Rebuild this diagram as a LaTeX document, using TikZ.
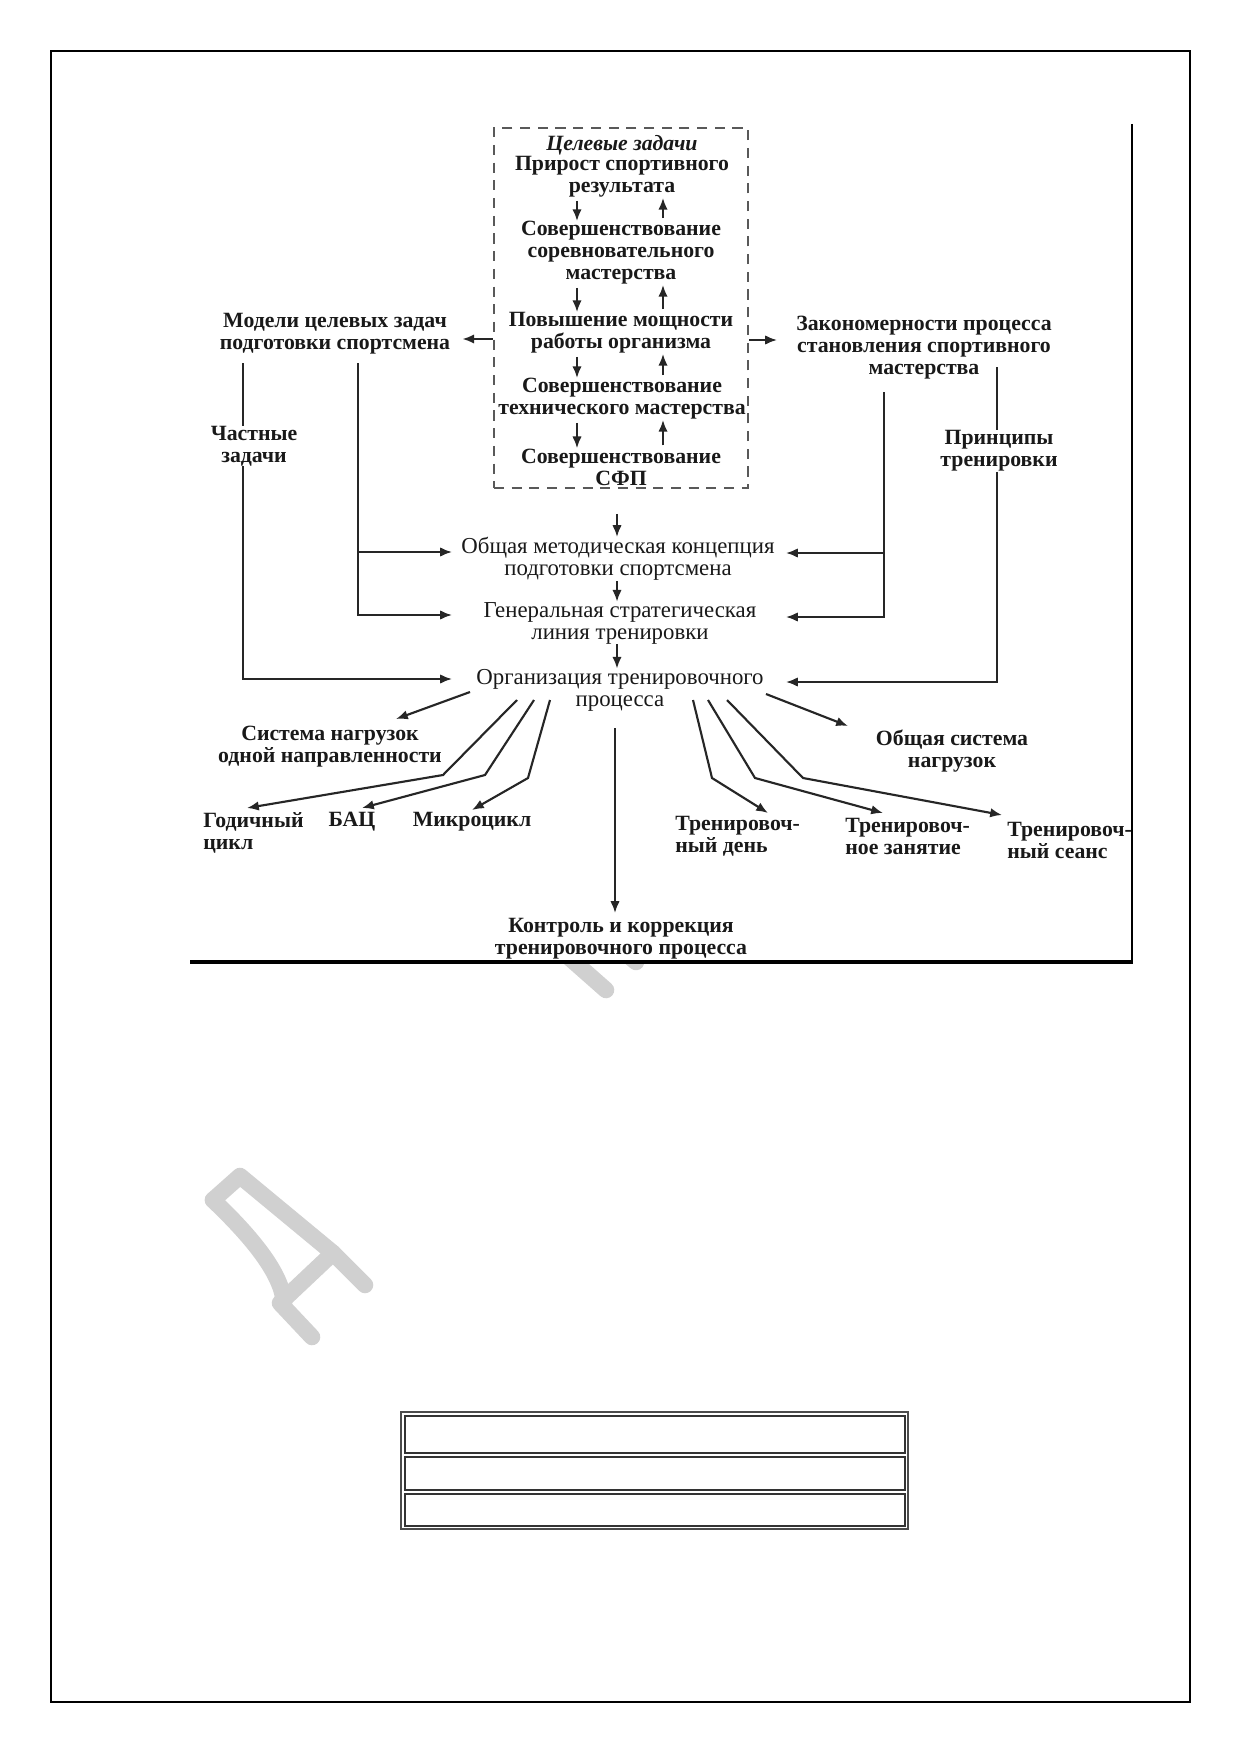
\documentclass[tikz,border=0pt]{standalone}
\usepackage{fontspec}
\setmainfont{Liberation Serif}
\usetikzlibrary{arrows.meta,fit}
\definecolor{wm}{RGB}{208,208,208}
\begin{document}
\begin{tikzpicture}[x=0.16949mm,y=-0.16949mm,
  bt/.style={font=\fontsize{10.5}{10.6}\selectfont\bfseries, align=center, inner sep=0pt, text=black!90},
  mt/.style={font=\fontsize{11}{10.6}\selectfont, align=center, inner sep=0pt, text=black!90},
  ln/.style={line width=0.36mm, draw=black!85},
  arr/.style={ln, -{Latex[length=2mm,width=1.6mm]}},
  wmline/.style={draw=wm, line width=2.8mm, line cap=round, line join=round}]
\useasboundingbox (0,0) rectangle (1239,1752);
\fill[white] (0,0) rectangle (1239,1752);
% page frame
\draw[line width=0.36mm] (51,51) rectangle (1190,1702);
% watermark
\draw[wmline] (213,1200) -- (240,1176) -- (333,1253);
\draw[wmline] (213,1200) .. controls (255,1240) and (282,1275) .. (284,1303);
\draw[wmline] (312,1337) -- (280,1303) -- (333,1253) -- (365,1285);
\draw[wmline] (555,945) -- (606,990);
\draw[wmline] (610,940) -- (636,962);
% diagram area
\fill[white] (190,124) rectangle (1132,962);
\draw[line width=0.4mm] (1132,124) -- (1132,962);
\draw[line width=0.6mm] (190,962) -- (1133,962);
% dashed box
\coordinate (bNW) at (494,128);
\coordinate (bSE) at (748,488);
\node[draw=black!65, line width=0.34mm, dash pattern=on 1.7mm off 1.3mm, fit=(bNW)(bSE), inner sep=0pt] (box) {};
\node[bt, font=\fontsize{10.5}{10.6}\selectfont\bfseries\itshape] (tgt) at (622,145) {Целевые задачи};
\node[bt] (n1) at (622,177) {Прирост спортивного\\результата};
\node[bt] (n2) at (621,253) {Совершенствование\\соревновательного\\мастерства};
\node[bt] (n3) at (621,333) {Повышение мощности\\работы организма};
\node[bt] (n4) at (622,399) {Совершенствование\\технического мастерства};
\node[bt] (n5) at (621,467) {Совершенствование\\СФП};
\coordinate (cL) at (577,0);
\coordinate (cR) at (663,0);
\foreach \a/\b in {n1/n2,n2/n3,n3/n4,n4/n5}{
  \draw[arr, shorten <=0.5mm] (\a.south -| cL) -- (\b.north -| cL);
  \draw[arr, shorten <=0.5mm] (\b.north -| cR) -- (\a.south -| cR);
}
% side nodes
\node[bt] (mod) at (335,334) {Модели целевых задач\\подготовки спортсмена};
\node[bt] (zak) at (924,348) {Закономерности процесса\\становления спортивного\\мастерства};
\node[bt] (chast) at (254,446) {Частные\\задачи};
\node[bt] (prin) at (999,451) {Принципы\\тренировки};
\coordinate (yMod) at (0,339);
\coordinate (yZak) at (0,340);
\draw[arr, shorten >=2mm] (box.west |- yMod) -- (mod.east |- yMod);
\draw[arr, shorten >=3.2mm] (box.east |- yZak) -- (zak.west |- yZak);
% middle column
\node[mt] (ob) at (618,559) {Общая методическая концепция\\подготовки спортсмена};
\node[mt] (gen) at (620,623) {Генеральная стратегическая\\линия тренировки};
\node[mt] (org) at (620,690) {Организация тренировочного\\процесса};
\coordinate (mX) at (617,0);
\draw[arr, shorten <=4.2mm] (box.south -| mX) -- (ob.north -| mX);
\draw[arr] (ob.south -| mX) -- (gen.north -| mX);
\draw[arr] (gen.south -| mX) -- (org.north -| mX);
% vertical feeders
\coordinate (aTop) at (243,363);
\coordinate (bTop) at (358,363);
\coordinate (cTop) at (884,392);
\coordinate (dTop) at (997,367);
\coordinate (tL) at (452,0);
\coordinate (tR) at (786,0);
\coordinate (yObL) at (0,552);
\coordinate (yGenL) at (0,615);
\coordinate (yOrgL) at (0,679);
\coordinate (yObR) at (0,553);
\coordinate (yGenR) at (0,617);
\coordinate (yOrgR) at (0,682);
\draw[ln] (aTop) -- (chast.north -| aTop);
\draw[arr] (chast.south -| aTop) |- (tL |- yOrgL);
\draw[arr] (bTop) |- (tL |- yGenL);
\draw[arr] (bTop |- yObL) -- (tL |- yObL);
\draw[ln] (dTop) -- (prin.north -| dTop);
\draw[arr] (prin.south -| dTop) |- (tR |- yOrgR);
\draw[arr] (cTop) |- (tR |- yGenR);
\draw[arr] (cTop |- yObR) -- (tR |- yObR);
% bottom nodes
\node[bt] (sys) at (330,747) {Система нагрузок\\одной направленности};
\node[bt] (obs) at (952,751) {Общая система\\нагрузок};
\node[bt, align=left, anchor=west] (god) at (203,833) {Годичный\\цикл};
\node[bt] (bac) at (352,822) {БАЦ};
\node[bt] (mic) at (472,822) {Микроцикл};
\node[bt, align=left, anchor=west] (den) at (675,836) {Тренировоч-\\ный день};
\node[bt, align=left, anchor=west] (zan) at (845,836) {Тренировоч-\\ное занятие};
\node[bt, align=left, anchor=west] (sea) at (1007,840) {Тренировоч-\\ный сеанс};
\node[bt] (kon) at (621,939) {Контроль и коррекция\\тренировочного процесса};
% fan connectors
\coordinate (fS) at (470,692);
\coordinate (fG) at (517,700);
\coordinate (fB) at (534,700);
\coordinate (fM) at (550,700);
\coordinate (fD) at (693,700);
\coordinate (fZ) at (708,700);
\coordinate (fE) at (727,700);
\coordinate (fO) at (766,694);
\coordinate (fK) at (615,728);
\coordinate (bG) at (443,775);
\coordinate (bB) at (485,775);
\coordinate (bM) at (528,778);
\coordinate (bD) at (712,778);
\coordinate (bZ) at (755,778);
\coordinate (bE) at (803,778);
\coordinate (tS) at (396,719);
\coordinate (tG) at (247,808);
\coordinate (tB) at (362,808);
\coordinate (tM) at (472,810);
\coordinate (tD) at (768,813);
\coordinate (tZ) at (883,813);
\coordinate (tE) at (1002,815);
\coordinate (tO) at (848,726);
\coordinate (tK) at (615,913);
\draw[arr] (fS) -- (tS);
\draw[arr] (fG) -- (bG) -- (tG);
\draw[arr] (fB) -- (bB) -- (tB);
\draw[arr] (fM) -- (bM) -- (tM);
\draw[arr] (fD) -- (bD) -- (tD);
\draw[arr] (fZ) -- (bZ) -- (tZ);
\draw[arr] (fE) -- (bE) -- (tE);
\draw[arr] (fO) -- (tO);
\draw[arr] (fK) -- (tK);
% bottom table
\draw[draw=black!70, line width=0.3mm] (401,1412) rectangle (908,1529);
\draw[draw=black!80, line width=0.3mm] (405,1416) rectangle (905,1453);
\draw[draw=black!80, line width=0.3mm] (405,1457) rectangle (905,1490);
\draw[draw=black!80, line width=0.3mm] (405,1494) rectangle (905,1526);
\end{tikzpicture}
\end{document}
